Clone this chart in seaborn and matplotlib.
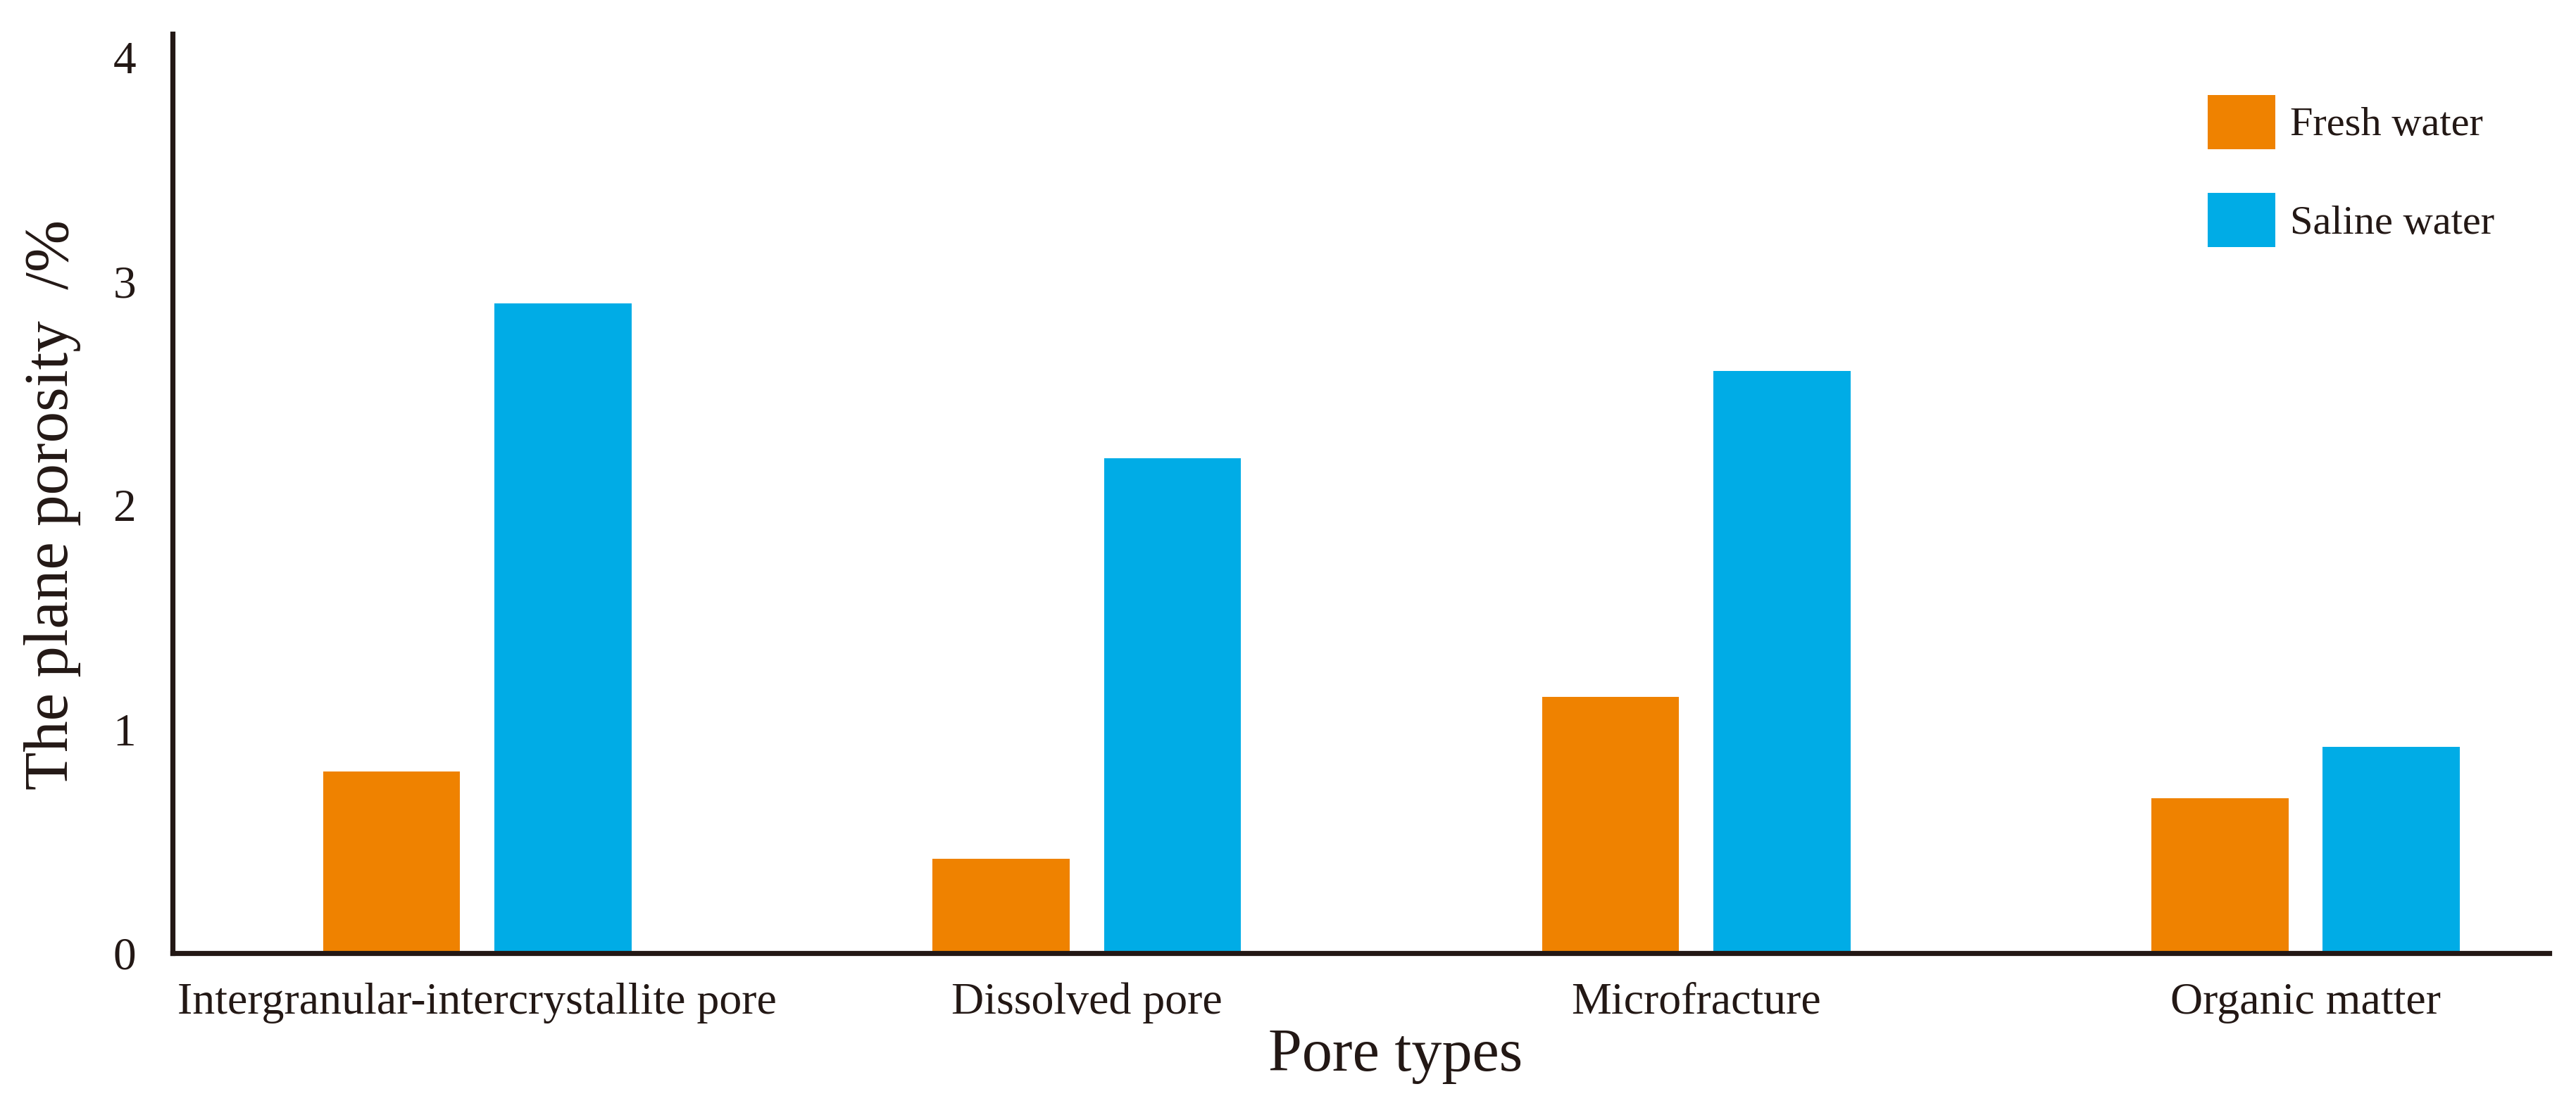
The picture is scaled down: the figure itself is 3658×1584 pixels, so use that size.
"""
Plane porosity by pore type, fresh vs saline water.
Saves the figure as out.png (3658x1584).
"""
import matplotlib
matplotlib.use("Agg")  # no display
import matplotlib.pyplot as plt
import pandas as pd
import seaborn as sns

# --- data ---
PORE_TYPES = ["Intergranular-intercrystallite pore", "Dissolved pore", "Microfracture", "Organic matter"]
WATER_TYPES = ["Fresh water", "Saline water"]
FRESH_WATER = [0.81, 0.42, 1.145, 0.69]
SALINE_WATER = [2.90, 2.21, 2.60, 0.92]
Y_TICKS = [0, 1, 2, 3, 4]

COLORS = ["#EF8200", "#00ACE6"]
INK = "#231815"

df = pd.DataFrame({
    "pore": PORE_TYPES * 2,
    "water": [WATER_TYPES[0]] * len(PORE_TYPES) + [WATER_TYPES[1]] * len(PORE_TYPES),
    "value": FRESH_WATER + SALINE_WATER,
})

sns.set_style("white")
plt.rcParams["font.family"] = ["Liberation Serif", "DejaVu Serif"]
plt.rcParams["text.color"] = INK

fig = plt.figure(figsize=(18.29, 7.92), dpi=200)
ax = fig.add_axes([0.067, 0.1452, 0.9227, 0.8245])

sns.barplot(
    data=df, x="pore", y="value", hue="water",
    order=PORE_TYPES, hue_order=WATER_TYPES, palette=COLORS,
    width=0.562, gap=0.2, saturation=1, errorbar=None,
    linewidth=0, ax=ax,
)

ax.set_xlim(-0.5, 3.4)
ax.set_ylim(0, 4.105)
ax.set_yticks(Y_TICKS)

# spines
sns.despine(ax=ax)
for side in ("left", "bottom"):
    ax.spines[side].set_linewidth(2.6)
    ax.spines[side].set_color(INK)

# ticks
ax.tick_params(axis="y", direction="out", length=4.7, width=2.5, pad=14,
               labelsize=23.5, color=INK, labelcolor=INK)
ax.tick_params(axis="x", which="major", length=0, pad=15, labelsize=23, labelcolor=INK)
ax.set_xticks([-0.5, 0.5, 1.5, 2.5, 3.4], minor=True)
ax.tick_params(axis="x", which="minor", direction="out", length=8.3, width=2.0, color=INK)

# labels
ax.set_xlabel("Pore types", fontsize=31, color=INK)
ax.xaxis.set_label_coords(0.5144, -0.0812)
ax.set_ylabel("The plane porosity  /%", fontsize=32, color=INK)
ax.yaxis.set_label_coords(-0.0385, 0.488)

# legend
handles, labels = ax.get_legend_handles_labels()
ax.legend(
    handles, labels, loc="upper left",
    bbox_to_anchor=(0.857, 0.9148), bbox_transform=fig.transFigure,
    frameon=False, fontsize=21, handlelength=1.65, handleheight=1.65,
    handletextpad=0.35, labelspacing=1.07, borderpad=0, borderaxespad=0,
)

fig.savefig("out.png", dpi=200)
plt.close(fig)
